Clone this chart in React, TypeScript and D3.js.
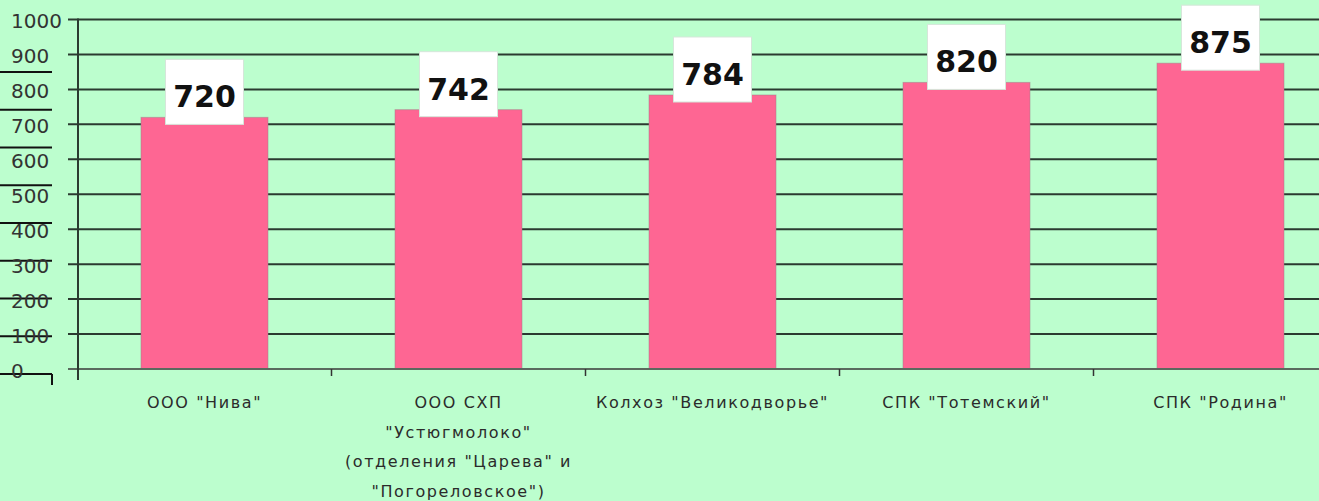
import React, { useEffect, useRef } from 'react';
import * as d3 from 'd3';

const categories: string[][] = [
  ['ООО "Нива"'],
  ['ООО СХП', '"Устюгмолоко"', '(отделения "Царева" и', '"Погореловское")'],
  ['Колхоз "Великодворье"'],
  ['СПК "Тотемский"'],
  ['СПК "Родина"'],
];
const values = [720, 742, 784, 820, 875];
const yTicks = [0, 100, 200, 300, 400, 500, 600, 700, 800, 900, 1000];
// stray short lines left over at the far left of the original picture
const strayLines = [0, 1, 2, 3, 4, 5, 6, 7, 8];

const W = 1319;
const H = 501;

const App: React.FC = () => {
  const svgRef = useRef<SVGSVGElement>(null);

  useEffect(() => {
    const svg = d3.select(svgRef.current);
    svg.selectAll('*').remove();

    const keys = categories.map((c) => c.join(' '));
    const x = d3
      .scaleBand<string>()
      .domain(keys)
      .range([77.5, 77.5 + 254 * 5])
      .paddingInner(0.5)
      .paddingOuter(0.25);
    const y = d3.scaleLinear().domain([0, 1000]).range([369, 19.5]);

    svg.append('rect').attr('width', W).attr('height', H).attr('fill', '#bcfece');

    // stray lines
    const sy = d3.scaleLinear().domain([0, 8]).range([374, 72]);
    svg
      .append('g')
      .selectAll('line')
      .data(strayLines)
      .join('line')
      .attr('x1', 0)
      .attr('x2', 52)
      .attr('y1', (d) => sy(d))
      .attr('y2', (d) => sy(d))
      .attr('stroke', '#111')
      .attr('stroke-width', 2);
    svg
      .append('line')
      .attr('x1', 52)
      .attr('x2', 52)
      .attr('y1', sy(0))
      .attr('y2', sy(0) + 11)
      .attr('stroke', '#111')
      .attr('stroke-width', 2);

    // gridlines
    svg
      .append('g')
      .selectAll('line')
      .data(yTicks.filter((d) => d > 0))
      .join('line')
      .attr('x1', 68)
      .attr('x2', W)
      .attr('y1', (d) => y(d))
      .attr('y2', (d) => y(d))
      .attr('stroke', '#2b3a30')
      .attr('stroke-width', 2);

    // y tick labels
    svg
      .append('g')
      .selectAll('text')
      .data(yTicks)
      .join('text')
      .attr('x', 11)
      .attr('y', (d) => y(d) + 1.5)
      .attr('dominant-baseline', 'central')
      .attr('font-family', 'DejaVu Sans')
      .attr('font-size', 20)
      .attr('fill', '#333')
      .text((d) => d);

    // bars
    svg
      .append('g')
      .selectAll('rect')
      .data(values)
      .join('rect')
      .attr('x', (_, i) => x(keys[i]) as number)
      .attr('y', (d) => y(d))
      .attr('width', x.bandwidth())
      .attr('height', (d) => y(0) - y(d))
      .attr('fill', '#fe6693')
      .attr('stroke', '#a07f8a')
      .attr('stroke-opacity', 0.5)
      .attr('stroke-width', 1);

    // axes lines
    svg
      .append('line')
      .attr('x1', 68)
      .attr('x2', W)
      .attr('y1', y(0))
      .attr('y2', y(0))
      .attr('stroke', '#5a6a5e')
      .attr('stroke-width', 2);
    svg
      .append('line')
      .attr('x1', 78)
      .attr('x2', 78)
      .attr('y1', y(1000) - 1)
      .attr('y2', 380)
      .attr('stroke', '#2b3a30')
      .attr('stroke-width', 2);

    // x ticks at band boundaries
    const step = x.step();
    svg
      .append('g')
      .selectAll('line')
      .data(keys.slice(1))
      .join('line')
      .attr('x1', (d) => (x(d) as number) - (step - x.bandwidth()) / 2)
      .attr('x2', (d) => (x(d) as number) - (step - x.bandwidth()) / 2)
      .attr('y1', y(0))
      .attr('y2', y(0) + 7)
      .attr('stroke', '#333')
      .attr('stroke-width', 1.5);

    // category labels
    const cat = svg
      .append('g')
      .selectAll('text')
      .data(categories)
      .join('text')
      .attr('text-anchor', 'middle')
      .attr('font-family', 'DejaVu Sans')
      .attr('font-size', 16)
      .attr('letter-spacing', 1.6)
      .attr('fill', '#2b2b2b');
    cat
      .selectAll('tspan')
      .data((d, i) => d.map((line) => ({ line, k: keys[i] })))
      .join('tspan')
      .attr('x', (d) => (x(d.k) as number) + x.bandwidth() / 2)
      .attr('y', (_, j) => 408 + j * 29.5)
      .text((d) => d.line);

    // value label boxes
    const lab = svg
      .append('g')
      .selectAll('g')
      .data(values)
      .join('g')
      .attr(
        'transform',
        (d, i) => `translate(${(x(keys[i]) as number) + x.bandwidth() / 2},${y(d)})`
      );
    lab
      .append('rect')
      .attr('x', -39)
      .attr('y', -58)
      .attr('width', 78)
      .attr('height', 65)
      .attr('fill', '#fff')
      .attr('stroke', '#d6e6da')
      .attr('stroke-width', 1);
    lab
      .append('text')
      .attr('text-anchor', 'middle')
      .attr('y', -10)
      .attr('font-family', 'DejaVu Sans')
      .attr('font-weight', 'bold')
      .attr('font-size', 30)
      .attr('fill', '#111')
      .text((d) => d);
  }, []);

  return (
    <svg
      ref={svgRef}
      width={W}
      height={H}
      style={{ position: 'absolute', left: 0, top: 0 }}
    />
  );
};

export default App;
